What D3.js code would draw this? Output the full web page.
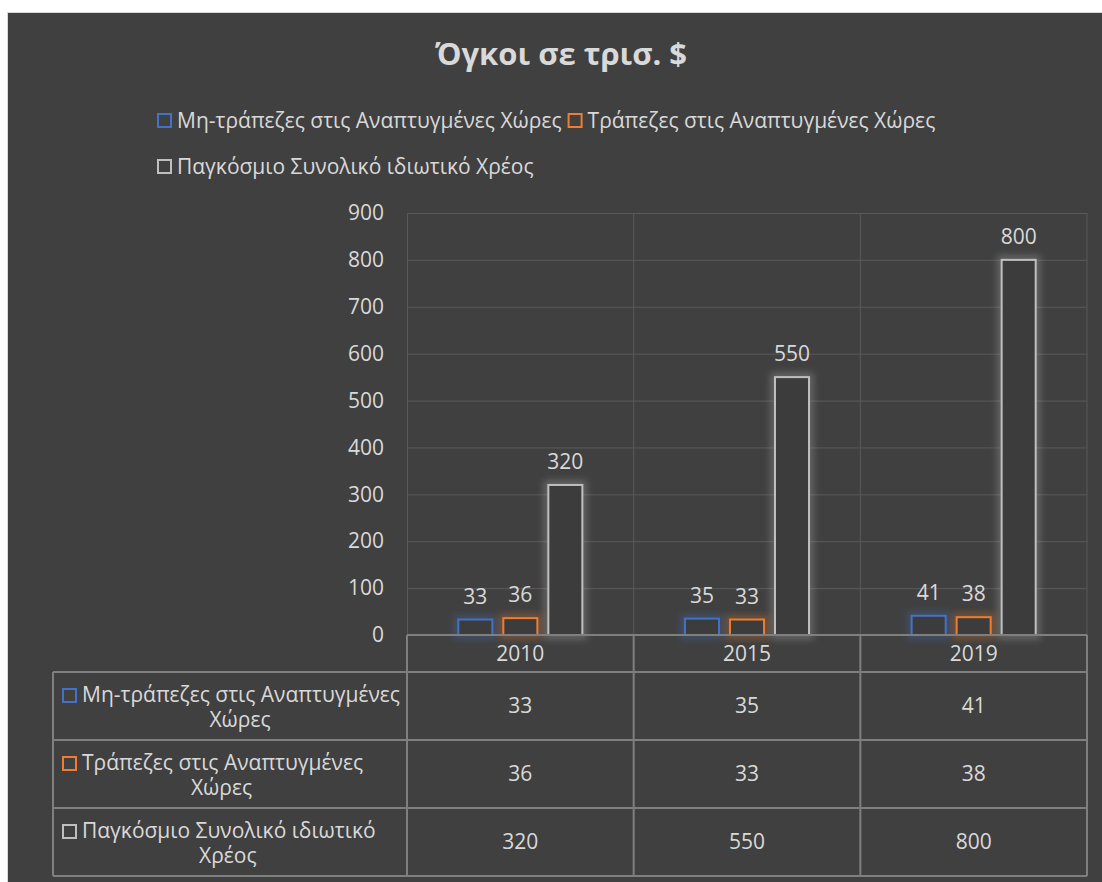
<!DOCTYPE html>
<html>
<head>
<meta charset="utf-8">
<script src="https://cdn.jsdelivr.net/npm/d3@7"></script>
<style>
  body { margin: 0; background: #fff; }
  svg text { font-family: "Open Sans", "Noto Sans", sans-serif; }
</style>
</head>
<body>
<svg id="svg1" width="1102" height="882"></svg>
<script>
// data
var years = ["2010", "2015", "2019"];
var seriesNames = ["Μη-τράπεζες στις Αναπτυγμένες Χώρες", "Τράπεζες στις Αναπτυγμένες Χώρες", "Παγκόσμιο Συνολικό ιδιωτικό Χρέος"];
var tableLabels = [["Μη-τράπεζες στις Αναπτυγμένες", "Χώρες"], ["Τράπεζες στις Αναπτυγμένες", "Χώρες"], ["Παγκόσμιο Συνολικό ιδιωτικό", "Χρέος"]];
var nonBanks = [33, 35, 41];
var banks = [36, 33, 38];
var totalDebt = [320, 550, 800];
var yTicks = [0, 100, 200, 300, 400, 500, 600, 700, 800, 900];
var colors = ["#4472C4", "#ED7D31", "#BFBFBF"];

var values = [nonBanks, banks, totalDebt];

var svg = d3.select("#svg1");

var textColor = "#d9d9d9";
var gridColor = "#595959";
var tableColor = "#7f7f7f";
var fs = 21;

// chart background
svg.append("rect")
  .attr("x", 7.5).attr("y", 12.5)
  .attr("width", 1110).attr("height", 880)
  .attr("fill", "#404040")
  .attr("stroke", "#d9d9d9");

var defs = svg.append("defs");
defs.append("filter").attr("id", "glow")
  .attr("x", "-50%").attr("y", "-50%").attr("width", "200%").attr("height", "200%")
  .append("feGaussianBlur").attr("stdDeviation", 3.5);

var plotLeft = 407, plotRight = 1087, plotTop = 213, plotBottom = 635;

var x0 = d3.scaleBand().domain(years).range([plotLeft, plotRight]);
var x1 = d3.scaleBand().domain(d3.range(3)).range([0, x0.bandwidth()])
  .paddingInner(0.244).paddingOuter(1.14);
var y = d3.scaleLinear().domain([0, 900]).range([plotBottom, plotTop]);

// title
svg.append("text")
  .attr("x", 561).attr("y", 65)
  .attr("text-anchor", "middle")
  .attr("font-size", 31).attr("font-weight", "bold")
  .attr("fill", textColor)
  .text("Όγκοι σε τρισ. $");

// legend
var legendY = [121, 121, 167];
var lx = 157;
seriesNames.forEach(function(name, i) {
  var px = i == 2 ? 157 : lx;
  var g = svg.append("g").attr("transform", "translate(" + px + "," + legendY[i] + ")");
  g.append("rect")
    .attr("x", 1).attr("y", -7).attr("width", 13).attr("height", 13)
    .attr("fill", "none").attr("stroke", colors[i]).attr("stroke-width", 2);
  var t = g.append("text")
    .attr("x", 20).attr("dy", "0.35em")
    .attr("font-size", fs)
    .attr("fill", textColor)
    .text(name);
  lx = px + 20 + t.node().getComputedTextLength() + 6;
});

// gridlines
svg.append("g").selectAll("line")
  .data(yTicks.slice(1))
  .enter().append("line")
  .attr("x1", plotLeft).attr("x2", plotRight)
  .attr("y1", function(d) { return y(d) + 0.5; })
  .attr("y2", function(d) { return y(d) + 0.5; })
  .attr("stroke", gridColor);

svg.append("g").selectAll("line")
  .data(years)
  .enter().append("line")
  .attr("x1", function(d) { return x0(d) + x0.bandwidth(); })
  .attr("x2", function(d) { return x0(d) + x0.bandwidth(); })
  .attr("y1", plotTop).attr("y2", plotBottom)
  .attr("stroke", gridColor);

svg.append("line")
  .attr("x1", plotLeft + 0.5).attr("x2", plotLeft + 0.5)
  .attr("y1", plotTop).attr("y2", plotBottom)
  .attr("stroke", gridColor);

// y axis
var yAxis = svg.append("g")
  .attr("transform", "translate(" + (plotLeft - 23) + ",0)")
  .call(d3.axisLeft(y).tickValues(yTicks).tickSize(0).tickPadding(0));
yAxis.select(".domain").remove();
yAxis.selectAll("text")
  .attr("font-size", fs)
  .attr("fill", textColor)
  .attr("font-family", "Open Sans, Noto Sans, sans-serif");

// bars
var groups = svg.append("g").selectAll("g")
  .data(years)
  .enter().append("g")
  .attr("transform", function(d) { return "translate(" + x0(d) + ",0)"; });

groups.each(function(year, yi) {
  var g = d3.select(this);
  var data = values.map(function(v, si) { return { s: si, v: v[yi] }; });

  // glow
  g.selectAll(".glow")
    .data(data)
    .enter().append("rect")
    .attr("class", "glow")
    .attr("x", function(d) { return x1(d.s); })
    .attr("y", function(d) { return y(d.v); })
    .attr("width", x1.bandwidth())
    .attr("height", function(d) { return y(0) - y(d.v); })
    .attr("fill", "none")
    .attr("stroke", function(d) { return colors[d.s]; })
    .attr("stroke-width", 9)
    .attr("opacity", 0.3)
    .attr("filter", "url(#glow)");

  g.selectAll(".bar")
    .data(data)
    .enter().append("rect")
    .attr("class", "bar")
    .attr("x", function(d) { return x1(d.s); })
    .attr("y", function(d) { return y(d.v); })
    .attr("width", x1.bandwidth())
    .attr("height", function(d) { return y(0) - y(d.v); })
    .attr("fill", "#3c3c3c")
    .attr("stroke", function(d) { return colors[d.s]; })
    .attr("stroke-width", 2);

  g.selectAll(".label")
    .data(data)
    .enter().append("text")
    .attr("class", "label")
    .attr("x", function(d) { return x1(d.s) + x1.bandwidth() / 2; })
    .attr("y", function(d) { return y(d.v) - 16; })
    .attr("text-anchor", "middle")
    .attr("font-size", fs)
    .attr("fill", textColor)
    .text(function(d) { return d.v; });
});

// data table
var tableLeft = 53;
var rowEdges = [plotBottom, 672, 740, 808, 876];
var table = svg.append("g").attr("stroke", tableColor).attr("stroke-width", 2).attr("fill", "none");

table.append("line").attr("x1", plotLeft).attr("x2", plotRight).attr("y1", rowEdges[0]).attr("y2", rowEdges[0]);
rowEdges.slice(1).forEach(function(ry) {
  table.append("line").attr("x1", tableLeft).attr("x2", plotRight).attr("y1", ry).attr("y2", ry);
});
table.append("line").attr("x1", tableLeft).attr("x2", tableLeft).attr("y1", rowEdges[1]).attr("y2", rowEdges[4]);
[plotLeft].concat(years.map(function(d) { return x0(d) + x0.bandwidth(); })).forEach(function(vx) {
  table.append("line").attr("x1", vx).attr("x2", vx).attr("y1", rowEdges[0]).attr("y2", rowEdges[4]);
});

// header years
svg.append("g").selectAll("text")
  .data(years)
  .enter().append("text")
  .attr("x", function(d) { return x0(d) + x0.bandwidth() / 2; })
  .attr("y", (rowEdges[0] + rowEdges[1]) / 2)
  .attr("dy", "0.35em")
  .attr("text-anchor", "middle")
  .attr("font-size", fs)
  .attr("fill", textColor)
  .text(function(d) { return d; });

// rows
values.forEach(function(vals, si) {
  var top = rowEdges[si + 1], bottom = rowEdges[si + 2];
  var mid = (top + bottom) / 2;
  var lg = svg.append("g");
  lg.append("rect")
    .attr("x", 63).attr("y", mid - 17).attr("width", 13).attr("height", 13)
    .attr("fill", "none").attr("stroke", colors[si]).attr("stroke-width", 2);
  var t1 = lg.append("text")
    .attr("x", 82).attr("y", mid - 11).attr("dy", "0.35em")
    .attr("font-size", fs).attr("fill", textColor)
    .text(tableLabels[si][0]);
  var end = 82 + t1.node().getComputedTextLength();
  lg.append("text")
    .attr("x", (62 + end) / 2 + 9).attr("y", mid + 14).attr("dy", "0.35em")
    .attr("text-anchor", "middle")
    .attr("font-size", fs).attr("fill", textColor)
    .text(tableLabels[si][1]);

  svg.append("g").selectAll("text")
    .data(vals)
    .enter().append("text")
    .attr("x", function(d, i) { return x0(years[i]) + x0.bandwidth() / 2; })
    .attr("y", mid)
    .attr("dy", "0.35em")
    .attr("text-anchor", "middle")
    .attr("font-size", fs)
    .attr("fill", textColor)
    .text(function(d) { return d; });
});
</script>
</body>
</html>
